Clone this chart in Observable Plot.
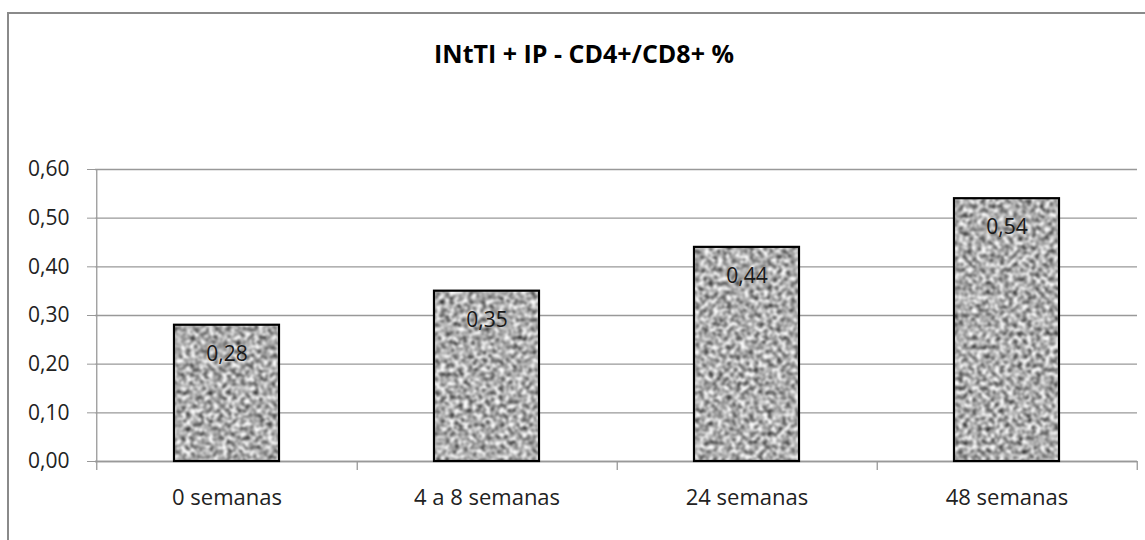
<!DOCTYPE html>
<html>
<head>
<meta charset="utf-8">
<script src="https://cdn.jsdelivr.net/npm/d3@7"></script>
<script src="https://cdn.jsdelivr.net/npm/@observablehq/plot@0.6"></script>
<style>
  html, body { margin: 0; padding: 0; background: #fff; }
  #chart { position: relative; width: 1145px; height: 540px; overflow: hidden; background: #fff; font-family: "Open Sans", sans-serif; }
  #frame { position: absolute; left: 7px; top: 12px; width: 1300px; height: 700px; border: 2px solid #8a8a8a; box-sizing: border-box; }
  #title { position: absolute; left: 0; top: 41px; width: 1168px; text-align: center; font: bold 25px/24px "Open Sans", sans-serif; color: #000; }
  #plot { position: absolute; left: 0; top: 0; }
  .grain rect { filter: url(#grain); }
</style>
</head>
<body>
<div id="chart">
  <div id="frame"></div>
  <svg width="0" height="0" style="position:absolute">
    <defs>
      <!-- soft speckled grey fill for the bars -->
      <filter id="grain" x="0" y="0" width="100%" height="100%" color-interpolation-filters="sRGB">
        <feTurbulence type="fractalNoise" baseFrequency="0.22" numOctaves="2" seed="7" result="noise"/>
        <feColorMatrix in="noise" type="matrix" result="grey"
          values="1.6 0 0 0 -0.12
                  1.6 0 0 0 -0.12
                  1.6 0 0 0 -0.12
                  0 0 0 0 1"/>
        <feGaussianBlur in="grey" stdDeviation="0.8" result="soft"/>
        <feComposite in="soft" in2="SourceGraphic" operator="in"/>
      </filter>
    </defs>
  </svg>
  <div id="plot"></div>
  <div id="title">INtTI + IP - CD4+/CD8+ %</div>
</div>
<script>
// CD4+/CD8+ ratio by follow-up time point
const categories = ["0 semanas", "4 a 8 semanas", "24 semanas", "48 semanas"];
const values = [0.28, 0.35, 0.44, 0.54];
const yTicks = [0, 0.1, 0.2, 0.3, 0.4, 0.5, 0.6];

const data = categories.map((c, i) => ({category: c, value: values[i]}));

const ptBR = d3.formatLocale({decimal: ",", thousands: ".", grouping: [3], currency: ["", ""]});
const fmt = ptBR.format(".2f");

const width = 1145, height = 540;
const margin = {top: 169, right: 8, bottom: 79, left: 95};
const step = (width - margin.left - margin.right) / categories.length;
const gap = 0.597;
const axisGrey = "#999";

const plot = Plot.plot({
  width, height,
  marginTop: margin.top, marginRight: margin.right,
  marginBottom: margin.bottom, marginLeft: margin.left,
  style: {fontFamily: "Open Sans, sans-serif", background: "transparent", overflow: "visible"},
  x: {domain: categories, paddingInner: gap, paddingOuter: gap / 2, label: null},
  y: {domain: [0, 0.6], label: null},
  marks: [
    Plot.gridY(yTicks, {stroke: axisGrey, strokeOpacity: 1, strokeWidth: 1.3}),
    Plot.ruleY([0], {stroke: axisGrey, strokeWidth: 1.3}),
    // vertical value axis line
    Plot.ruleX([categories[0]], {y1: yTicks[yTicks.length - 1], y2: 0, insetBottom: -9, dx: -step / 2, stroke: axisGrey, strokeWidth: 1.3}),
    // category boundary ticks below the baseline
    Plot.ruleX(categories, {y1: 0, y2: 0, insetBottom: -9, dx: step / 2, stroke: axisGrey, strokeWidth: 1.3}),
    Plot.axisY(yTicks, {
      tickFormat: fmt, tickSize: 8, tickPadding: 18, stroke: axisGrey,
      fontSize: 21, fill: "#222", label: null
    }),
    Plot.axisX({tickSize: 0, tickPadding: 28, fontSize: 22, fill: "#222", label: null}),
    Plot.barY(data, {x: "category", y: "value", fill: "#aaa", className: "grain"}),
    Plot.barY(data, {x: "category", y: "value", fill: "none", stroke: "#000", strokeWidth: 2.2}),
    Plot.text(data, {x: "category", y: "value", text: d => fmt(d.value), dy: 29, fontSize: 21, fill: "#1a1a1a"})
  ]
});

document.getElementById("plot").appendChild(plot);
</script>
</body>
</html>
